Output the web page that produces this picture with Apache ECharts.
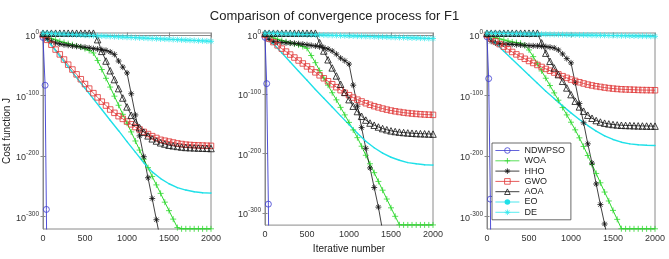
<!DOCTYPE html>
<html>
<head>
<meta charset="utf-8">
<script src="https://cdn.jsdelivr.net/npm/echarts@6/dist/echarts.min.js"></script>
<style>
  html, body { margin: 0; padding: 0; background: #fff; }
  #chart { width: 669px; height: 259px; }
</style>
</head>
<body>
<div id="chart"></div>
<script>
// series names (legend order)
var names = ['NDWPSO', 'WOA', 'HHO', 'GWO', 'AOA', 'EO', 'DE'];

// iterations, y values are log10 of cost function J
var iters = [0, 50, 100, 150, 200, 250, 300, 350, 400, 450, 500, 550, 600, 650, 700, 750, 800, 850, 900, 950,
  1000, 1050, 1100, 1150, 1200, 1250, 1300, 1350, 1400, 1450, 1500, 1550, 1600, 1650, 1700, 1750, 1800, 1850, 1900, 1950, 2000];
var itersEO = [0, 100, 200, 300, 400, 500, 600, 700, 800, 900, 1000, 1100, 1200, 1300, 1400, 1500, 1600, 1700, 1800, 1900, 2000];
var yTicks = [-300, -200, -100, 0];

// ---- panel 1 ----
var ndIt1 = [0, 25, 40, 44];
var nd1 = [-4, -83, -288, -340];
var woa1 = [0, -3, -6, -8, -10.4, -12.3, -14.3, -16, -18, -20, -22.5, -25.5, -29.7, -42, -57, -71.5, -86, -101, -116, -131,
  -145.6, -160, -175, -190, -205, -219, -233.5, -247.5, -261.5, -276, -290, -304, -318, -320, -320, -320, -320, -320, -320, -320, -320];
var hho1 = [0, -6, -10.4, -13, -14.8, -16, -17, -18, -18.7, -19.5, -20.3, -21.3, -22.5, -23.3, -24.2, -25.5, -28, -32, -43, -53,
  -62.6, -97, -132, -166.5, -201, -235.7, -270, -305, -340, null, null, null, null, null, null, null, null, null, null, null, null];
var gwo1 = [0, -8, -16, -24, -32, -40.5, -49, -57, -65, -73, -81, -88.5, -96, -103, -110, -116.5, -123, -128.5, -134, -138.5,
  -143, -147.5, -152, -156, -160, -163.5, -167, -170, -173, -174.5, -176, -177.5, -179, -180, -181, -181.5, -182, -182.3, -182.5, -182.8, -183];
var aoa1 = [3, 3, 3, 3, 3, 3, 3, 3, 3, 3, 3, 3, 3, -7.7, -27, -43, -59, -73.6, -88.5, -104,
  -118.7, -132.4, -144, -153, -160.4, -166.5, -171.4, -175, -178, -180, -182, -183, -184, -185, -185.7, -186, -186.3, -186.6, -186.8, -187.1, -187.4];
var eo1 = [0, -17, -34.6, -52.7, -70.3, -88, -105.5, -123, -140.7, -158, -176, -193.4, -211, -226, -237, -245.6, -252, -256, -258.8, -260.4, -261];
var de1 = [3, 2.7, 2.3, 2, 1.7, 1.3, 1, 0.7, 0.3, 0, -0.4, -0.7, -1, -1.4, -1.7, -2, -2.4, -2.7, -3, -3.4,
  -3.7, -4, -4.4, -4.7, -5, -5.4, -5.7, -6, -6.4, -6.7, -7, -7.4, -7.7, -8, -8.4, -8.7, -9, -9.4, -9.7, -10, -10.4];

// ---- panel 2 ----
var ndIt2 = [0, 20, 40, 44];
var nd2 = [-4, -82, -285, -340];
var woa2 = [0, -2.5, -5, -7.2, -9.3, -11.3, -13.2, -15, -17, -19.5, -22.5, -34.6, -46.7, -60, -72.5, -84.6, -97.3, -109.3, -122, -134.6,
  -147.3, -160, -173, -187.4, -202.7, -217, -232, -246.7, -261.5, -276.4, -291.2, -305.5, -319.8, -320, -320, -320, -320, -320, -320, -320, -320];
var hho2 = [0, -7.7, -11.5, -12, -12.6, -13.2, -13.7, -14.2, -14.8, -15.6, -16.5, -17.6, -18.7, -20, -21.4, -23.6, -27, -32.4, -39, -43.4,
  -49, -84.6, -120, -156, -191, -224, -257, -290, -330, null, null, null, null, null, null, null, null, null, null, null, null];
var gwo2 = [0, -6, -12, -17.5, -23, -28, -33, -38, -43, -48, -53, -58, -63, -68, -73, -78, -83, -88, -93, -97.5,
  -101.5, -105.5, -109, -112, -115, -117.6, -120, -122, -124, -125.8, -127.3, -128.6, -129.7, -130.8, -131.6, -132.4, -133, -133.5, -134, -134.3, -134.6];
var aoa2 = [3, 3, 3, 3, 3, 3, 3, 3, 3, 3, 3, 3, 3, -13, -27, -41.8, -55.5, -69, -83, -96.7,
  -109, -120, -129, -137, -143.4, -148.4, -152, -155, -157.7, -159.7, -161.5, -162.7, -163.7, -164.4, -165, -165.5, -166, -166.3, -166.5, -166.8, -167];
var eo2 = [0, -14.8, -30.2, -45.6, -61, -76.4, -91.8, -106.6, -121.4, -136.3, -151, -165.4, -179, -190, -199, -206, -211, -215, -217, -218.7, -219.2];
var de2 = [3, 2.8, 2.6, 2.3, 2.1, 1.9, 1.7, 1.4, 1.2, 1, 0.8, 0.5, 0.3, 0.1, -0.2, -0.4, -0.6, -0.8, -1.1, -1.3,
  -1.5, -1.7, -2, -2.2, -2.4, -2.6, -2.9, -3.1, -3.3, -3.5, -3.8, -4, -4.2, -4.4, -4.7, -4.9, -5.1, -5.3, -5.6, -5.8, -6];

// ---- panel 3 ----
var ndIt3 = [0, 20, 40, 44];
var nd3 = [-3, -72, -271, -340];
var woa3 = [0, -2.2, -4.4, -6.3, -8.2, -9.9, -11.5, -12.6, -13.7, -17, -24.7, -35.7, -47.3, -59.3, -71.4, -83.5, -95.6, -107.7, -119.8, -131.9,
  -144, -156.6, -169.8, -184, -199, -213.7, -228.6, -244, -259.3, -274, -289.6, -304.4, -319.8, -320, -320, -320, -320, -320, -320, -320, -320];
var hho3 = [0, -10.4, -13.2, -14.2, -14.8, -15.1, -15.4, -16, -16.5, -17, -17.6, -17.9, -18.1, -18.6, -19.2, -20.2, -21.4, -24.7, -31.3, -39,
  -46, -79, -113, -145, -179.7, -211.5, -246, -280, -312, -346, null, null, null, null, null, null, null, null, null, null, null];
var gwo3 = [0, -5.5, -10.4, -15, -19.2, -23.6, -28, -32, -35.7, -39.3, -42.9, -46.2, -49.5, -52.8, -56, -59, -62, -65, -68, -70.8,
  -73.6, -75.8, -78, -80, -81.9, -83.3, -84.6, -85.7, -86.8, -87.7, -88.5, -89.1, -89.6, -89.9, -90.1, -90.4, -90.7, -90.9, -91, -91.1, -91.2];
var aoa3 = [3, 3, 3, 3, 3, 3, 3, 3, 3, 3, 3, 3, 3, -13, -30, -43.4, -54.4, -65.4, -76.4, -87.4,
  -98.4, -109.3, -118.7, -125.8, -132.4, -137.4, -141.2, -143.7, -145.6, -146.8, -147.8, -148.5, -149, -149.3, -149.5, -149.8, -150, -150.2, -150.3, -150.4, -150.5];
var eo3 = [0, -13.2, -27, -40, -53.3, -66.5, -79.7, -92.9, -105, -117, -128.6, -139.6, -149.5, -158.8, -166.5, -172.5, -177, -179.7, -181.3, -182, -182.4];
var de3 = [3, 2.9, 2.7, 2.6, 2.5, 2.4, 2.2, 2.1, 2, 1.8, 1.7, 1.6, 1.4, 1.3, 1.2, 1.1, 0.9, 0.8, 0.7, 0.5,
  0.4, 0.3, 0.1, 0, -0.1, -0.3, -0.4, -0.5, -0.6, -0.8, -0.9, -1, -1.2, -1.3, -1.4, -1.6, -1.7, -1.8, -1.9, -2.1, -2.2];

var panels = [
  { ndIt: ndIt1, nd: nd1, woa: woa1, hho: hho1, gwo: gwo1, aoa: aoa1, eo: eo1, de: de1 },
  { ndIt: ndIt2, nd: nd2, woa: woa2, hho: hho2, gwo: gwo2, aoa: aoa2, eo: eo2, de: de2 },
  { ndIt: ndIt3, nd: nd3, woa: woa3, hho: hho3, gwo: gwo3, aoa: aoa3, eo: eo3, de: de3 }
];

// marker shapes (stroke only, like matlab markers)
var SYM = {
  circle: 'path://M10,5A5,5 0 1 1 0,5A5,5 0 1 1 10,5Z',
  plus: 'path://M0,5H10M5,0V10',
  star: 'path://M0,5H10M5,0V10M1.5,1.5L8.5,8.5M8.5,1.5L1.5,8.5',
  square: 'path://M0,0H10V10H0Z',
  triangle: 'path://M5,0L10,9L0,9Z'
};

var look = {
  NDWPSO: { color: '#3c3cd2', symbol: SYM.circle, size: 6, width: 0.9 },
  WOA: { color: '#2ed82e', symbol: SYM.plus, size: 6, width: 1 },
  HHO: { color: '#111111', symbol: SYM.star, size: 6, width: 0.8 },
  GWO: { color: '#e03434', symbol: SYM.square, size: 5.5, width: 0.8 },
  AOA: { color: '#111111', symbol: SYM.triangle, size: 6.5, width: 0.8 },
  EO: { color: '#1fe0e8', symbol: 'circle', size: 1.5, width: 1.4 },
  DE: { color: '#30e8ee', symbol: SYM.star, size: 6, width: 1 }
};

function pts(xs, ys) {
  var out = [];
  for (var i = 0; i < xs.length; i++) out.push([xs[i], ys[i]]);
  return out;
}

function markStyle(name) {
  var s = look[name];
  return name === 'EO' ? { color: s.color, borderWidth: 0 }
                       : { color: 'transparent', borderColor: s.color, borderWidth: 0.8 };
}

function mk(name, g, data) {
  var s = look[name];
  return {
    name: name,
    type: 'line',
    xAxisIndex: g * 2,
    yAxisIndex: g * 2,
    data: data,
    symbol: s.symbol,
    symbolSize: s.size,
    clip: true,
    lineStyle: { color: s.color, width: s.width },
    itemStyle: markStyle(name),
    emphasis: { disabled: true }
  };
}

var gridPos = [43, 265, 487];
var grids = [], xAxes = [], yAxes = [], series = [];

var axisGray = '#8a8a8a';
var labelRich = {
  b: { fontSize: 9, color: '#333', verticalAlign: 'bottom', lineHeight: 12 },
  s: { fontSize: 6.5, color: '#333', verticalAlign: 'top', lineHeight: 12 }
};

for (var g = 0; g < 3; g++) {
  grids.push({ left: gridPos[g], top: 33, width: 168, height: 196, show: true, borderColor: axisGray, borderWidth: 1 });

  xAxes.push({
    gridIndex: g, type: 'value', min: 0, max: 2000, interval: 500,
    axisLine: { lineStyle: { color: axisGray } },
    axisTick: { inside: true, length: 2.5, lineStyle: { color: axisGray } },
    axisLabel: { fontSize: 9, color: '#333', margin: 5, formatter: function (v) { return String(v); } },
    splitLine: { show: false },
    name: g === 1 ? 'Iterative number' : '',
    nameLocation: 'middle', nameGap: 16,
    nameTextStyle: { fontSize: 10, color: '#222' }
  });
  xAxes.push({
    gridIndex: g, type: 'value', position: 'top', min: 0, max: 2000, interval: 500,
    axisLine: { show: false },
    axisTick: { inside: true, length: 2.5, lineStyle: { color: axisGray } },
    axisLabel: { show: false },
    splitLine: { show: false }
  });

  yAxes.push({
    gridIndex: g, type: 'value', min: -320.3, max: 3.3,
    axisLine: { show: true, lineStyle: { color: axisGray } },
    axisTick: { show: true, inside: true, length: 2.5, customValues: yTicks, lineStyle: { color: axisGray } },
    axisLabel: {
      customValues: yTicks, margin: 4, rich: labelRich,
      formatter: function (v) { return '{b|10}{s|' + v + '}'; }
    },
    splitLine: { show: false },
    name: g === 0 ? 'Cost function J' : '',
    nameLocation: 'middle', nameGap: 30,
    nameTextStyle: { fontSize: 10, color: '#222' }
  });
  yAxes.push({
    gridIndex: g, type: 'value', position: 'right', min: -320.3, max: 3.3,
    axisLine: { show: false },
    axisTick: { show: true, inside: true, length: 2.5, customValues: yTicks, lineStyle: { color: axisGray } },
    axisLabel: { show: false },
    splitLine: { show: false }
  });

  var p = panels[g];
  series.push(mk('NDWPSO', g, pts(p.ndIt, p.nd)));
  series.push(mk('WOA', g, pts(iters, p.woa)));
  series.push(mk('HHO', g, pts(iters, p.hho)));
  series.push(mk('GWO', g, pts(iters, p.gwo)));
  series.push(mk('AOA', g, pts(iters, p.aoa)));
  series.push(mk('EO', g, pts(itersEO, p.eo)));
  series.push(mk('DE', g, pts(iters, p.de)));
}

var legendData = names.map(function (n) {
  return {
    name: n,
    itemStyle: markStyle(n),
    lineStyle: { color: look[n].color, width: 0.8 }
  };
});

var chart = echarts.init(document.getElementById('chart'), null, { renderer: 'canvas' });
chart.setOption({
  animation: false,
  backgroundColor: '#fff',
  textStyle: { fontFamily: 'Liberation Sans, Arial, sans-serif' },
  title: {
    text: 'Comparison of convergence process for F1',
    left: 'center', top: 5,
    textStyle: { fontSize: 13, fontWeight: 'normal', color: '#222' }
  },
  legend: {
    data: legendData,
    orient: 'vertical',
    left: 492, top: 143,
    itemWidth: 24, itemHeight: 7, itemGap: 1.3,
    padding: [3, 6, 3, 3],
    backgroundColor: '#fff',
    borderColor: '#444', borderWidth: 0.8, borderRadius: 0,
    selectedMode: false,
    textStyle: { fontSize: 9, color: '#222' }
  },
  grid: grids,
  xAxis: xAxes,
  yAxis: yAxes,
  series: series
});
</script>
</body>
</html>
